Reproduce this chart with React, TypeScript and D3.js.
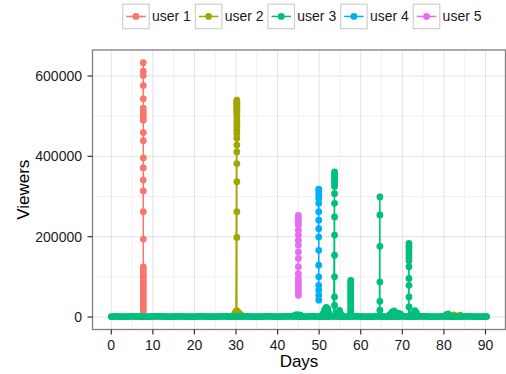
import { useEffect, useRef } from 'react'
import * as d3 from 'd3'

type Pt = [number, number]

// Series
const users = ['user 1', 'user 2', 'user 3', 'user 4', 'user 5']
const userColors = ['#F8766D', '#A3A500', '#00BF7D', '#00B0F6', '#E76BF3']

// Axis ticks
const xTicks = [0, 10, 20, 30, 40, 50, 60, 70, 80, 90]
const xMinor = [5, 15, 25, 35, 45, 55, 65, 75, 85]
const yTicks = [0, 200000, 400000, 600000]
const yMinor = [100000, 300000, 500000]

// user 1: one burst around day 7.7
const user1: Pt[] = [
  [7.7, 633000], [7.7, 612000], [7.7, 601000], [7.7, 576000], [7.7, 543000],
  [7.7, 520000], [7.7, 511000], [7.7, 503000], [7.7, 495000], [7.7, 490000],
  [7.7, 459000], [7.7, 439000], [7.7, 396000], [7.7, 371000], [7.7, 341000],
  [7.7, 314000], [7.7, 262000], [7.7, 194000], [7.7, 125000], [7.7, 119000],
  [7.7, 113000], [7.7, 108000], [7.7, 102000], [7.7, 96000], [7.7, 90000],
  [7.7, 84000], [7.7, 78000], [7.7, 72000], [7.7, 66000], [7.7, 60000],
  [7.7, 54000], [7.7, 48000], [7.7, 42000], [7.7, 36000], [7.7, 30000],
  [7.7, 24000], [7.7, 18000], [7.7, 12000], [7.7, 7000], [7.7, 3000],
]

// user 2: burst around day 30
const user2: Pt[] = [
  [29.4, 3000], [29.7, 9000], [30.0, 14000],
  [30.2, 540000], [30.2, 536000], [30.2, 532000], [30.2, 528000], [30.2, 523000],
  [30.2, 519000], [30.2, 515000], [30.2, 511000], [30.2, 507000], [30.2, 499000],
  [30.2, 490000], [30.2, 482000], [30.2, 474000], [30.2, 465000], [30.2, 457000],
  [30.2, 445000], [30.2, 428000], [30.2, 411000], [30.2, 382000], [30.2, 337000],
  [30.2, 262000], [30.2, 198000], [30.2, 16000],
  [30.5, 12000], [30.9, 8000], [31.3, 4000], [82.4, 5500], [83.9, 5000],
]

// user 3: twice-daily baseline plus several bursts
const user3Base: Pt[] = [
  [0, 900], [1, 1300], [2, 1000], [3, 700], [4, 1200], [5, 1600], [6, 1300], [7, 900], [8, 600], [9, 1000],
  [10, 1400], [11, 1700], [12, 1400], [13, 1000], [14, 800], [15, 1100], [16, 1500], [17, 1300], [18, 900], [19, 700],
  [20, 1000], [21, 1400], [22, 1600], [23, 1200], [24, 900], [25, 1100], [26, 1500], [27, 1700], [28, 1300], [29, 1000],
  [30, 800], [31, 1200], [32, 1500], [33, 1300], [34, 900], [35, 700], [36, 1000], [37, 1400], [38, 1600], [39, 1200],
  [40, 900], [41, 1100], [42, 1500], [43, 1700], [44, 1300], [45, 1000], [46, 800], [47, 1200], [48, 1500], [49, 1300],
  [50, 900], [51, 700], [52, 1000], [53, 1400], [54, 1600], [55, 1200], [56, 900], [57, 1100], [58, 1500], [59, 1700],
  [60, 1300], [61, 1000], [62, 800], [63, 1200], [64, 1500], [65, 1300], [66, 900], [67, 700], [68, 1000], [69, 1400],
  [70, 1600], [71, 1200], [72, 900], [73, 1100], [74, 1500], [75, 1700], [76, 1300], [77, 1000], [78, 800], [79, 1200],
  [80, 1500], [81, 1300], [82, 900], [83, 700], [84, 1000], [85, 1400], [86, 1600], [87, 1200], [88, 900], [89, 1100],
  [90, 1300], [90.3, 1200],
]
const user3BaseHalf: Pt[] = [
  [0.5, 1100], [1.5, 1200], [2.5, 800], [3.5, 900], [4.5, 1400], [5.5, 1500], [6.5, 1100], [7.5, 700], [8.5, 800], [9.5, 1200],
  [10.5, 1600], [11.5, 1600], [12.5, 1200], [13.5, 900], [14.5, 900], [15.5, 1300], [16.5, 1400], [17.5, 1100], [18.5, 800], [19.5, 800],
  [20.5, 1200], [21.5, 1500], [22.5, 1400], [23.5, 1000], [24.5, 1000], [25.5, 1300], [26.5, 1600], [27.5, 1500], [28.5, 1200], [29.5, 900],
  [30.5, 1000], [31.5, 1400], [32.5, 1400], [33.5, 1100], [34.5, 800], [35.5, 800], [36.5, 1200], [37.5, 1500], [38.5, 1400], [39.5, 1000],
  [40.5, 1000], [41.5, 1300], [42.5, 1600], [43.5, 1500], [44.5, 1200], [45.5, 900], [46.5, 1000], [47.5, 1400], [48.5, 1400], [49.5, 1100],
  [50.5, 800], [51.5, 800], [52.5, 1200], [53.5, 1500], [54.5, 1400], [55.5, 1000], [56.5, 1000], [57.5, 1300], [58.5, 1600], [59.5, 1500],
  [60.5, 1200], [61.5, 900], [62.5, 1000], [63.5, 1400], [64.5, 1400], [65.5, 1100], [66.5, 800], [67.5, 800], [68.5, 1200], [69.5, 1500],
  [70.5, 1400], [71.5, 1000], [72.5, 1000], [73.5, 1300], [74.5, 1600], [75.5, 1500], [76.5, 1200], [77.5, 900], [78.5, 1000], [79.5, 1400],
  [80.5, 1400], [81.5, 1100], [82.5, 800], [83.5, 800], [84.5, 1200], [85.5, 1500], [86.5, 1400], [87.5, 1000], [88.5, 1000], [89.5, 1200],
]
const user3Bumps: Pt[] = [
  [44.2, 5000], [44.6, 6000], [45.4, 5500],
  [50.9, 8000], [51.3, 18000], [51.7, 24000], [52.1, 20000], [52.4, 9000],
  [54.6, 10000], [54.9, 16700], [55.2, 8000],
  [67.0, 6000], [67.5, 12000], [68.0, 15000], [68.5, 11000], [69.2, 9000], [69.6, 7000],
  [72.6, 9000], [73.0, 16000], [73.4, 10000],
  [80.6, 6000], [81.0, 7500],
]
const user3Bursts: Pt[] = [
  [53.7, 361000], [53.7, 355000], [53.7, 349000], [53.7, 343000], [53.7, 337000],
  [53.7, 331000], [53.7, 325000], [53.7, 307000], [53.7, 283000], [53.7, 249000],
  [53.7, 204000], [53.7, 154000], [53.7, 100000], [53.7, 50000], [53.7, 29000],
  [57.6, 91000], [57.6, 86000], [57.6, 81000], [57.6, 76000], [57.6, 71000],
  [57.6, 66000], [57.6, 61000], [57.6, 56000], [57.6, 51000], [57.6, 46000],
  [57.6, 41000], [57.6, 36000], [57.6, 31000], [57.6, 26000], [57.6, 21000],
  [57.6, 16000], [57.6, 11000], [57.6, 6000],
  [64.6, 299000], [64.6, 254000], [64.6, 176000], [64.6, 87000], [64.6, 39000], [64.6, 17000],
  [71.6, 183000], [71.6, 176000], [71.6, 170000], [71.6, 163000], [71.6, 156000],
  [71.6, 148000], [71.6, 140000], [71.6, 125000], [71.6, 96000], [71.6, 79000],
  [71.6, 50000], [71.6, 25000],
]

// user 4: burst around day 49.9
const user4: Pt[] = [
  [49.9, 318000], [49.9, 312000], [49.9, 303000], [49.9, 295000], [49.9, 283000],
  [49.9, 262000], [49.9, 241000], [49.9, 220000], [49.9, 199000], [49.9, 166000],
  [49.9, 129000], [49.9, 100000], [49.9, 79000], [49.9, 67000], [49.9, 54000],
  [49.9, 42000],
]

// user 5: burst around day 45
const user5: Pt[] = [
  [45.0, 253000], [45.0, 245000], [45.0, 237000], [45.0, 229000], [45.0, 216000],
  [45.0, 204000], [45.0, 191000], [45.0, 179000], [45.0, 162000], [45.0, 146000],
  [45.0, 125000], [45.0, 108000], [45.0, 96000], [45.0, 87000], [45.0, 79000],
  [45.0, 71000], [45.0, 62000], [45.0, 54000],
]

const series: Pt[][] = [
  user1,
  user2,
  [...user3Base, ...user3BaseHalf, ...user3Bumps, ...user3Bursts],
  user4,
  user5,
]

export default function App() {
  const svgRef = useRef<SVGSVGElement>(null)

  useEffect(() => {
    if (!svgRef.current) return
    const svg = d3.select(svgRef.current)
    svg.selectAll('*').remove()

    const width = 506
    const height = 374
    const left = 92.5
    const right = 505.5
    const top = 50
    const bottom = 329.5
    const font = 'Liberation Sans, Arial, Helvetica, sans-serif'
    const textColor = '#1a1a1a'
    const r = 3.4

    svg.attr('width', width).attr('height', height)

    // ggplot-style 5% expansion around the data range
    const all = series.flat()
    const [x0, x1] = d3.extent(all, d => d[0]) as [number, number]
    const [y0, y1] = d3.extent(all, d => d[1]) as [number, number]
    const xPad = (x1 - x0) * 0.05
    const yPad = (y1 - y0) * 0.05

    const x = d3.scaleLinear().domain([x0 - xPad, x1 + xPad]).range([left, right])
    const y = d3.scaleLinear().domain([y0 - yPad, y1 + yPad]).range([bottom, top])

    svg.append('rect')
      .attr('x', left).attr('y', top)
      .attr('width', right - left).attr('height', bottom - top)
      .attr('fill', '#fff')

    // Grid
    const grid = svg.append('g')
    grid.selectAll('.xmin').data(xMinor).enter().append('line')
      .attr('x1', d => x(d)).attr('x2', d => x(d)).attr('y1', top).attr('y2', bottom)
      .attr('stroke', '#f3f3f3').attr('stroke-width', 1.2)
    grid.selectAll('.ymin').data(yMinor).enter().append('line')
      .attr('y1', d => y(d)).attr('y2', d => y(d)).attr('x1', left).attr('x2', right)
      .attr('stroke', '#f3f3f3').attr('stroke-width', 1.2)
    grid.selectAll('.xmaj').data(xTicks).enter().append('line')
      .attr('x1', d => x(d)).attr('x2', d => x(d)).attr('y1', top).attr('y2', bottom)
      .attr('stroke', '#e3e3e3').attr('stroke-width', 1)
    grid.selectAll('.ymaj').data(yTicks).enter().append('line')
      .attr('y1', d => y(d)).attr('y2', d => y(d)).attr('x1', left).attr('x2', right)
      .attr('stroke', '#e3e3e3').attr('stroke-width', 1)

    // Lines (all groups first, then points, like geom_line + geom_point)
    const line = d3.line<Pt>().x(d => x(d[0])).y(d => y(d[1]))
    const sorted = series.map(s => [...s].sort((a, b) => a[0] - b[0]))

    svg.append('g').selectAll('path').data(sorted).enter().append('path')
      .attr('d', d => line(d))
      .attr('fill', 'none')
      .attr('stroke', (_, i) => userColors[i])
      .attr('stroke-width', 1.5)

    const pts = svg.append('g')
    sorted.forEach((s, i) => {
      pts.append('g').selectAll('circle').data(s).enter().append('circle')
        .attr('cx', d => x(d[0]))
        .attr('cy', d => y(d[1]))
        .attr('r', r)
        .attr('fill', userColors[i])
    })

    // Panel border
    svg.append('rect')
      .attr('x', left).attr('y', top)
      .attr('width', right - left).attr('height', bottom - top)
      .attr('fill', 'none').attr('stroke', '#7f7f7f').attr('stroke-width', 1.3)

    // Axes
    const axes = svg.append('g').attr('font-family', font).attr('fill', textColor)
    axes.selectAll('.xt').data(xTicks).enter().append('line')
      .attr('x1', d => x(d)).attr('x2', d => x(d)).attr('y1', bottom).attr('y2', bottom + 5)
      .attr('stroke', '#333').attr('stroke-width', 1.2)
    axes.selectAll('.xl').data(xTicks).enter().append('text')
      .attr('x', d => x(d)).attr('y', 350)
      .attr('text-anchor', 'middle').attr('font-size', 14)
      .text(d => d)
    axes.selectAll('.yt').data(yTicks).enter().append('line')
      .attr('y1', d => y(d)).attr('y2', d => y(d)).attr('x1', left - 5).attr('x2', left)
      .attr('stroke', '#333').attr('stroke-width', 1.2)
    axes.selectAll('.yl').data(yTicks).enter().append('text')
      .attr('x', 82).attr('y', d => y(d) + 5)
      .attr('text-anchor', 'end').attr('font-size', 14)
      .text(d => d)

    axes.append('text')
      .attr('x', (left + right) / 2).attr('y', 367)
      .attr('text-anchor', 'middle').attr('font-size', 17)
      .attr('fill', '#000')
      .text('Days')
    axes.append('text')
      .attr('transform', `translate(28.5, ${(top + bottom) / 2}) rotate(-90)`)
      .attr('text-anchor', 'middle').attr('font-size', 17)
      .attr('fill', '#000')
      .text('Viewers')

    // Legend
    const lx = d3.scalePoint<string>().domain(users).range([122.7, 413.3])
    const keyW = 26.5
    const keyH = 24.5
    const keyY = 4.2
    const legend = svg.append('g').attr('font-family', font)
    users.forEach((u, i) => {
      const g = legend.append('g').attr('transform', `translate(${lx(u)}, ${keyY})`)
      g.append('rect')
        .attr('width', keyW).attr('height', keyH)
        .attr('fill', '#fff').attr('stroke', '#cfcfcf').attr('stroke-width', 1.2)
      g.append('line')
        .attr('x1', 3.5).attr('x2', keyW - 3.5)
        .attr('y1', keyH / 2).attr('y2', keyH / 2)
        .attr('stroke', userColors[i]).attr('stroke-width', 1.5)
      g.append('circle')
        .attr('cx', keyW / 2).attr('cy', keyH / 2).attr('r', r)
        .attr('fill', userColors[i])
      g.append('text')
        .attr('x', keyW + 2.8).attr('y', keyH / 2 + 4.6)
        .attr('font-size', 14).attr('fill', textColor)
        .text(u)
    })
  }, [])

  return (
    <svg
      ref={svgRef}
      style={{ position: 'absolute', left: 0, top: 0, display: 'block' }}
    ></svg>
  )
}
